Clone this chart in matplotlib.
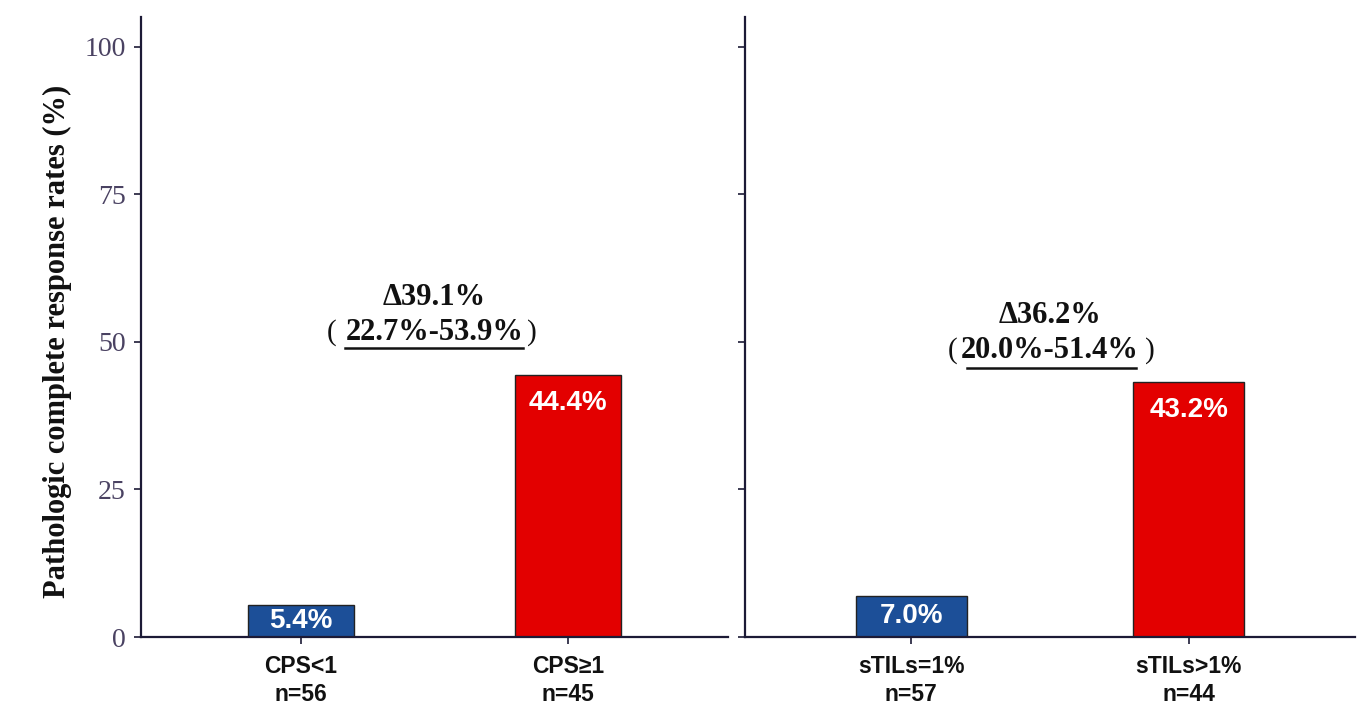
import matplotlib
matplotlib.use("Agg")
import matplotlib.pyplot as plt

# Data
left_groups = ["CPS<1\nn=56", "CPS≥1\nn=45"]
left_rates = [5.4, 44.4]
left_delta = "Δ39.1%"
left_ci = "22.7%-53.9%"

right_groups = ["sTILs=1%\nn=57", "sTILs>1%\nn=44"]
right_rates = [7.0, 43.2]
right_delta = "Δ36.2%"
right_ci = "20.0%-51.4%"

bar_colors = ["#1C4F98", "#E30000"]
yticks = [0, 25, 50, 75, 100]

spine_col = "#1c1a36"
serif = ["Liberation Serif", "DejaVu Serif"]
sans = ["Liberation Sans", "DejaVu Sans"]

fig = plt.figure(figsize=(13.72, 7.06), dpi=100)
ax1 = fig.add_axes([0.1028, 0.0977, 0.4278, 0.8782])
ax2 = fig.add_axes([0.5430, 0.0977, 0.4446, 0.8782])


def draw_panel(ax, groups, rates, delta, ci, text_y, line_y, line_x, paren_x, show_labels):
    x = list(range(len(groups)))
    ax.bar(x, rates, width=0.4, color=bar_colors, edgecolor="#222222", linewidth=1.0, zorder=2)
    ax.set_xlim(-0.6, 1.6)
    ax.set_ylim(0, 105)
    ax.set_xticks(x)
    ax.set_xticklabels(groups, fontfamily=sans, fontweight="bold", fontsize=16.5,
                       color="#111111", linespacing=1.25)
    ax.set_yticks(yticks)
    if show_labels:
        ax.set_yticklabels([str(t) for t in yticks], fontfamily=serif, fontsize=20,
                           color="#4a4262")
    else:
        ax.set_yticklabels([])
    for s in ["top", "right"]:
        ax.spines[s].set_visible(False)
    for s in ["left", "bottom"]:
        ax.spines[s].set_color(spine_col)
        ax.spines[s].set_linewidth(1.6)
    ax.tick_params(axis="y", length=5, width=1.2, color=spine_col, pad=6)
    ax.tick_params(axis="x", length=5, width=1.2, color=spine_col, pad=8)

    # value labels inside bars
    for xi, r in zip(x, rates):
        ax.text(xi, max(r / 2, r - 4.7), f"{r:.1f}%", ha="center", va="center",
                color="white", fontfamily=sans, fontweight="bold", fontsize=20, zorder=3)

    # difference annotation
    mid = 0.5
    ax.text(mid, text_y[0], delta, ha="center", va="center", fontfamily=serif,
            fontweight="bold", fontsize=22, color="#111111")
    ax.text(mid, text_y[1], ci, ha="center", va="center", fontfamily=serif,
            fontweight="bold", fontsize=22, color="#111111")
    ax.text(paren_x[0], text_y[1], "(", ha="center", va="center", fontfamily=serif,
            fontsize=21, color="#111111")
    ax.text(paren_x[1], text_y[1], ")", ha="center", va="center", fontfamily=serif,
            fontsize=21, color="#111111")
    ax.plot(line_x, [line_y, line_y], color="#111111", linewidth=1.8)


draw_panel(ax1, left_groups, left_rates, left_delta, left_ci,
           (57.5, 51.5), 48.9, [0.165, 0.83], [0.113, 0.865], True)
draw_panel(ax2, right_groups, right_rates, right_delta, right_ci,
           (54.5, 48.6), 45.6, [0.2, 0.81], [0.15, 0.86], False)

ax1.set_ylabel("Pathologic complete response rates (%)", fontfamily=serif,
               fontweight="bold", fontsize=22, color="#111111")
ax1.yaxis.set_label_coords(-0.118, 0.477)

fig.savefig("out.png", dpi=100, facecolor="white")
